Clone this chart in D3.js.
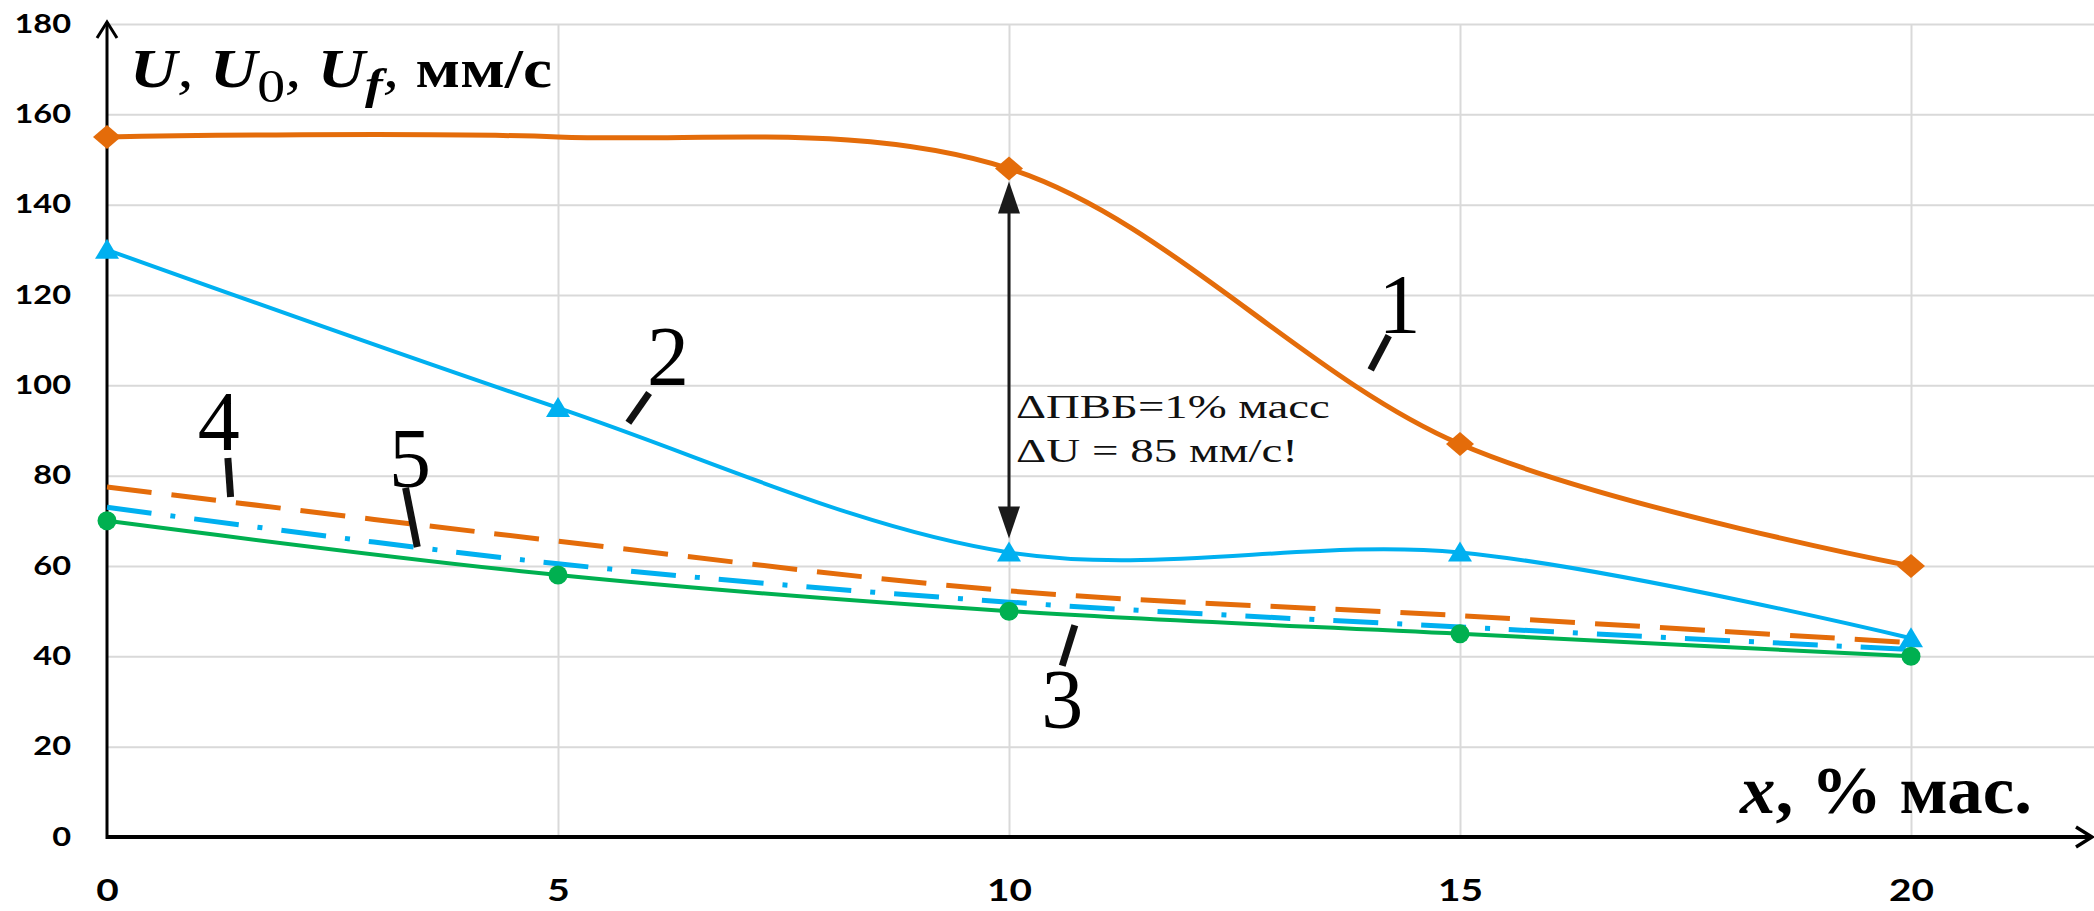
<!DOCTYPE html>
<html>
<head>
<meta charset="utf-8">
<script src="https://cdn.jsdelivr.net/npm/d3@7"></script>
<style>
  html, body { margin: 0; padding: 0; background: #fff; }
  svg { display: block; }
</style>
</head>
<body>
<svg id="chart" width="2094" height="911"></svg>
<script>
// Composition x (% mass) at which the curves were measured
const xValues = [0, 5, 10, 15, 20];

// Curve 1: U (orange, diamonds); the point at x = 5 carries no marker
const series1 = [155, 155, 148, 87, 60];
const series1Marked = [true, false, true, true, true];
// Curve 2: U0 (blue, triangles)
const series2 = [130, 95, 63, 63, 44];
// Curve 3: Uf (green, circles)
const series3 = [70, 58, 50, 45, 40];
// Curve 4: orange dashed
const series4 = [77.5, 65.5, 54.5, 49, 43];
// Curve 5: blue dash-dot
const series5 = [73, 60.5, 52, 46.5, 41.5];

const xTicks = [0, 5, 10, 15, 20];
const yTicks = [0, 20, 40, 60, 80, 100, 120, 140, 160, 180];

const W = 2094, H = 911;
const svg = d3.select('#chart');

const x = d3.scaleLinear().domain([0, 20]).range([107, 1911]);
const y = d3.scaleLinear().domain([0, 180]).range([837, 24]);
const xEnd = 2092;   // tip of the x-axis arrow

const ORANGE = '#E46C0A', BLUE = '#00B0F0', GREEN = '#00B050';
const SERIF = '"Liberation Serif", "Times New Roman", serif';
const SANS = 'Lato, "Open Sans", sans-serif';

// ---- grid ----
const gridH = svg.append('g')
  .attr('transform', `translate(${x(0)},0)`)
  .call(d3.axisLeft(y).tickValues(yTicks.filter(d => d > 0))
    .tickSize(-(W - x(0))).tickFormat(''));
const gridV = svg.append('g')
  .attr('transform', `translate(0,${y(0)})`)
  .call(d3.axisBottom(x).tickValues(xTicks.filter(d => d > 0))
    .tickSize(-(y(0) - y(180))).tickFormat(''));
[gridH, gridV].forEach(g => {
  g.select('.domain').remove();
  g.selectAll('line').attr('stroke', '#d9d9d9').attr('stroke-width', 2);
});

// ---- tick labels ----
function stretchLabels(g, k) {
  g.selectAll('text').each(function () {
    const len = this.getComputedTextLength();
    d3.select(this).attr('textLength', len * k).attr('lengthAdjust', 'spacingAndGlyphs');
  });
}
const yAxis = svg.append('g')
  .attr('transform', `translate(${x(0)},0)`)
  .call(d3.axisLeft(y).tickValues(yTicks).tickSize(0).tickPadding(36));
yAxis.select('.domain').remove();
yAxis.selectAll('text')
  .attr('font-family', SANS).attr('font-weight', 700).attr('font-size', 26).attr('fill', '#000');
stretchLabels(yAxis, 1.25);

const xAxis = svg.append('g')
  .attr('transform', `translate(0,${y(0)})`)
  .call(d3.axisBottom(x).tickValues(xTicks).tickSize(0).tickPadding(42));
xAxis.select('.domain').remove();
xAxis.selectAll('text')
  .attr('font-family', SANS).attr('font-weight', 700).attr('font-size', 31).attr('fill', '#000');
stretchLabels(xAxis, 1.25);

// ---- axis lines with open arrowheads ----
svg.append('line').attr('x1', x(0)).attr('x2', xEnd).attr('y1', y(0)).attr('y2', y(0))
  .attr('stroke', '#000').attr('stroke-width', 4);
svg.append('path')
  .attr('d', `M${xEnd - 16},${y(0) - 10}L${xEnd},${y(0)}L${xEnd - 16},${y(0) + 10}`)
  .attr('fill', 'none').attr('stroke', '#000').attr('stroke-width', 3.5);
svg.append('line').attr('x1', x(0)).attr('x2', x(0)).attr('y1', y(0) + 2).attr('y2', y(180) - 2)
  .attr('stroke', '#000').attr('stroke-width', 3);
svg.append('path')
  .attr('d', `M${x(0) - 10},${y(180) + 14}L${x(0)},${y(180) - 2}L${x(0) + 10},${y(180) + 14}`)
  .attr('fill', 'none').attr('stroke', '#000').attr('stroke-width', 3);

// ---- curves ----
const line = d3.line()
  .x(d => x(d[0])).y(d => y(d[1]))
  .curve(d3.curveCatmullRom.alpha(0.5));
const pts = arr => xValues.map((v, i) => [v, arr[i]]);

svg.append('path').datum(pts(series4)).attr('d', line)
  .attr('fill', 'none').attr('stroke', ORANGE).attr('stroke-width', 5)
  .attr('stroke-dasharray', '45 20');
svg.append('path').datum(pts(series5)).attr('d', line)
  .attr('fill', 'none').attr('stroke', BLUE).attr('stroke-width', 5)
  .attr('stroke-dasharray', '45 19 5 19');
svg.append('path').datum(pts(series3)).attr('d', line)
  .attr('fill', 'none').attr('stroke', GREEN).attr('stroke-width', 4);
svg.append('path').datum(pts(series2)).attr('d', line)
  .attr('fill', 'none').attr('stroke', BLUE).attr('stroke-width', 4);
svg.append('path').datum(pts(series1)).attr('d', line)
  .attr('fill', 'none').attr('stroke', ORANGE).attr('stroke-width', 5);

// ---- markers ----
svg.append('g').selectAll('path')
  .data(pts(series1).filter((d, i) => series1Marked[i]))
  .join('path')
  .attr('transform', d => `translate(${x(d[0])},${y(d[1])})`)
  .attr('d', 'M0,-12L14,0L0,12L-14,0Z')
  .attr('fill', ORANGE);
svg.append('g').selectAll('path')
  .data(pts(series2))
  .join('path')
  .attr('transform', d => `translate(${x(d[0])},${y(d[1])})`)
  .attr('d', 'M0,-11L12,9L-12,9Z')
  .attr('fill', BLUE);
svg.append('g').selectAll('circle')
  .data(pts(series3))
  .join('circle')
  .attr('cx', d => x(d[0])).attr('cy', d => y(d[1])).attr('r', 9.5)
  .attr('fill', GREEN);

// ---- axis titles ----
function fitText(sel, x0, baseline, width) {
  const w = sel.node().getBBox().width;
  sel.attr('transform', `translate(${x0},${baseline}) scale(${width / w},1)`);
}
const yTitle = svg.append('text')
  .attr('font-family', SERIF).attr('font-size', 54).attr('fill', '#000');
yTitle.append('tspan').attr('font-weight', 700).attr('font-style', 'italic').text('U');
yTitle.append('tspan').attr('font-style', 'italic').text(', ');
yTitle.append('tspan').attr('font-weight', 700).attr('font-style', 'italic').text('U');
yTitle.append('tspan').attr('font-size', 46).attr('dy', 15).text('0');
yTitle.append('tspan').attr('font-style', 'italic').attr('dy', -15).text(', ');
yTitle.append('tspan').attr('font-weight', 700).attr('font-style', 'italic').text('U');
yTitle.append('tspan').attr('font-size', 44).attr('font-weight', 700).attr('font-style', 'italic').attr('dy', 12).text('f');
yTitle.append('tspan').attr('font-style', 'italic').attr('dy', -12).text(', ');
yTitle.append('tspan').attr('font-weight', 700).text('мм/с');
fitText(yTitle, 130, 87, 422);

const xTitle = svg.append('text')
  .attr('font-family', SERIF).attr('font-size', 68).attr('font-weight', 700).attr('fill', '#000');
xTitle.append('tspan').attr('font-style', 'italic').text('x');
xTitle.append('tspan').text(', % мас.');
fitText(xTitle, 1740, 813, 293);

// ---- double arrow between curves 1 and 2 at x = 10 ----
const ax = x(10);
const aTop = y(series1[2]) + 13, aBot = y(series2[2]) - 14;
svg.append('line').attr('x1', ax).attr('x2', ax).attr('y1', aTop + 20).attr('y2', aBot - 20)
  .attr('stroke', '#1a1a1a').attr('stroke-width', 3);
svg.append('path').attr('d', `M${ax},${aTop}L${ax + 11},${aTop + 32}L${ax - 11},${aTop + 32}Z`).attr('fill', '#1a1a1a');
svg.append('path').attr('d', `M${ax},${aBot}L${ax + 11},${aBot - 32}L${ax - 11},${aBot - 32}Z`).attr('fill', '#1a1a1a');

const dU = series1[2] - series2[2];
const note1 = svg.append('text').attr('font-family', SERIF).attr('font-size', 34).attr('fill', '#111')
  .text('ΔПВБ=1% масс');
fitText(note1, 1016, 418, 314);
const note2 = svg.append('text').attr('font-family', SERIF).attr('font-size', 34).attr('fill', '#111')
  .text(`ΔU = ${dU} мм/с!`);
fitText(note2, 1016, 462, 282);

// ---- curve numbers with leader strokes (data coordinates) ----
const curveNotes = [
  { t: '1', tx: 14.33, ty: 111.5, a: [14.21, 111.0], b: [14.01, 103.4] },
  { t: '2', tx: 6.22, ty: 100.1, a: [6.01, 98.3], b: [5.78, 91.7] },
  { t: '3', tx: 10.59, ty: 24.1, a: [10.73, 46.9], b: [10.59, 37.9] },
  { t: '4', tx: 1.24, ty: 85.7, a: [1.34, 83.9], b: [1.37, 75.3] },
  { t: '5', tx: 3.36, ty: 77.5, a: [3.31, 77.3], b: [3.44, 64.2] }
];
const notes = svg.append('g');
notes.selectAll('line').data(curveNotes).join('line')
  .attr('x1', d => x(d.a[0])).attr('y1', d => y(d.a[1]))
  .attr('x2', d => x(d.b[0])).attr('y2', d => y(d.b[1]))
  .attr('stroke', '#111').attr('stroke-width', 7);
notes.selectAll('text').data(curveNotes).join('text')
  .attr('x', d => x(d.tx)).attr('y', d => y(d.ty))
  .attr('text-anchor', 'middle')
  .attr('font-family', SERIF).attr('font-size', 84).attr('fill', '#000')
  .text(d => d.t);
</script>
</body>
</html>
